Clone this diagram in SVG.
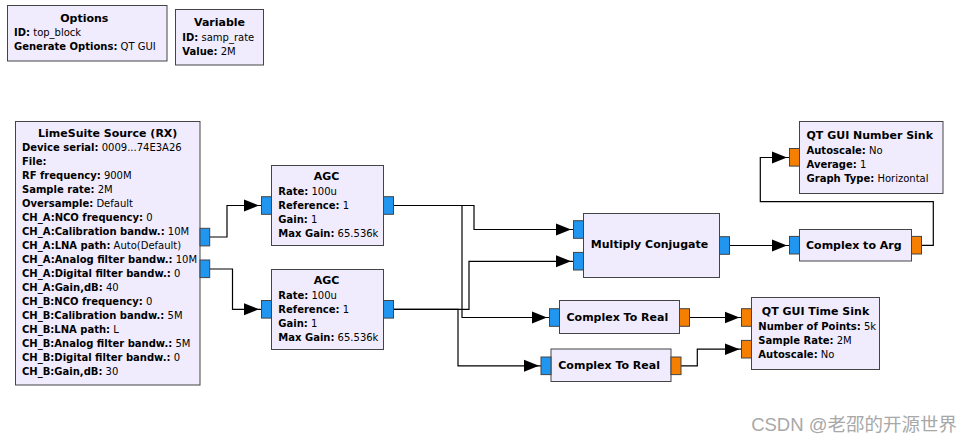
<svg xmlns="http://www.w3.org/2000/svg" width="974" height="444" viewBox="0 0 974 444">
<style>
.blk{fill:#f0ecfd;stroke:#444;stroke-width:1}
.pc{fill:#2196f0;stroke:#444;stroke-width:1}
.pf{fill:#f57f00;stroke:#444;stroke-width:1}
text{font-family:"DejaVu Sans",sans-serif;font-size:10px;fill:#000}
.t{font-weight:bold;font-size:11px;text-anchor:middle}
.tl{font-weight:bold;font-size:11px}
.b{font-weight:bold}
.w{fill:none;stroke:#000;stroke-width:1.2}
.wm{font-family:"Liberation Sans","Noto Sans CJK SC",sans-serif;font-size:18.5px;fill:#a8a8a8;text-anchor:end}
</style>
<defs>
<marker id="arr" markerUnits="userSpaceOnUse" markerWidth="18" markerHeight="14" viewBox="0 0 18 14" refX="17" refY="7" orient="auto">
<path d="M0,1 L15,7 L0,13 z" fill="#000"/>
</marker>
</defs>

<g id="connectors">
<polyline class="w" points="209.5,237 227,237 227,205.5 261,205.5" marker-end="url(#arr)"/>
<polyline class="w" points="209.5,269 232.5,269 232.5,309.3 261,309.3" marker-end="url(#arr)"/>
<polyline class="w" points="393.5,205.5 474,205.5 474,229.5 573,229.5" marker-end="url(#arr)"/>
<polyline class="w" points="393.5,205.5 462,205.5 462,317.5 549,317.5" marker-end="url(#arr)"/>
<polyline class="w" points="393.5,309.3 469,309.3 469,261.3 573,261.3" marker-end="url(#arr)"/>
<polyline class="w" points="393.5,309.3 458,309.3 458,365.8 541,365.8" marker-end="url(#arr)"/>
<polyline class="w" points="729.5,245.5 789,245.5" marker-end="url(#arr)"/>
<polyline class="w" points="921.5,245.3 933.3,245.3 933.3,201.7 760.3,201.7 760.3,157.5 789,157.5" marker-end="url(#arr)"/>
<polyline class="w" points="689.5,317.5 741.5,317.5" marker-end="url(#arr)"/>
<polyline class="w" points="681,365.8 697.3,365.8 697.3,349.2 741.5,349.2" marker-end="url(#arr)"/>
</g>

<g id="options">
<rect class="blk" x="7.5" y="5.5" width="159.5" height="55.5"/>
<text class="t" x="84.3" y="21.5">Options</text>
<text x="14" y="36"><tspan class="b">ID:</tspan> top_block</text>
<text x="14" y="50"><tspan class="b">Generate Options:</tspan> QT GUI</text>
</g>

<g id="variable">
<rect class="blk" x="175.5" y="9.5" width="88" height="55.5"/>
<text class="t" x="219.5" y="26">Variable</text>
<text x="182.3" y="40.5"><tspan class="b">ID:</tspan> samp_rate</text>
<text x="182.3" y="54.5"><tspan class="b">Value:</tspan> 2M</text>
</g>

<g id="limesuite_source">
<rect class="blk" x="15.5" y="121.5" width="184.5" height="263.5"/>
<rect class="pc" x="200" y="228.3" width="9.7" height="17.6"/>
<rect class="pc" x="200" y="260" width="9.7" height="17.6"/>
<text class="t" x="107.7" y="137">LimeSuite Source (RX)</text>
<text x="22" y="151"><tspan class="b">Device serial:</tspan> 0009...74E3A26</text>
<text x="22" y="165"><tspan class="b">File:</tspan></text>
<text x="22" y="179"><tspan class="b">RF frequency:</tspan> 900M</text>
<text x="22" y="193"><tspan class="b">Sample rate:</tspan> 2M</text>
<text x="22" y="207"><tspan class="b">Oversample:</tspan> Default</text>
<text x="22" y="221"><tspan class="b">CH_A:NCO frequency:</tspan> 0</text>
<text x="22" y="235"><tspan class="b">CH_A:Calibration bandw.:</tspan> 10M</text>
<text x="22" y="249"><tspan class="b">CH_A:LNA path:</tspan> Auto(Default)</text>
<text x="22" y="263"><tspan class="b">CH_A:Analog filter bandw.:</tspan> 10M</text>
<text x="22" y="277"><tspan class="b">CH_A:Digital filter bandw.:</tspan> 0</text>
<text x="22" y="291"><tspan class="b">CH_A:Gain,dB:</tspan> 40</text>
<text x="22" y="305"><tspan class="b">CH_B:NCO frequency:</tspan> 0</text>
<text x="22" y="319"><tspan class="b">CH_B:Calibration bandw.:</tspan> 5M</text>
<text x="22" y="333"><tspan class="b">CH_B:LNA path:</tspan> L</text>
<text x="22" y="347"><tspan class="b">CH_B:Analog filter bandw.:</tspan> 5M</text>
<text x="22" y="361"><tspan class="b">CH_B:Digital filter bandw.:</tspan> 0</text>
<text x="22" y="375"><tspan class="b">CH_B:Gain,dB:</tspan> 30</text>
</g>

<g id="agc_1">
<rect class="blk" x="271.5" y="165.5" width="112" height="80"/>
<rect class="pc" x="261.5" y="196.7" width="10" height="17.6"/>
<rect class="pc" x="383.5" y="196.7" width="10" height="17.6"/>
<text class="t" x="326.5" y="180">AGC</text>
<text x="278.3" y="194.5"><tspan class="b">Rate:</tspan> 100u</text>
<text x="278.3" y="208.5"><tspan class="b">Reference:</tspan> 1</text>
<text x="278.3" y="222.5"><tspan class="b">Gain:</tspan> 1</text>
<text x="278.3" y="236.5"><tspan class="b">Max Gain:</tspan> 65.536k</text>
</g>

<g id="agc_2">
<rect class="blk" x="271.5" y="269.5" width="112" height="80"/>
<rect class="pc" x="261.5" y="300.5" width="10" height="17.6"/>
<rect class="pc" x="383.5" y="300.5" width="10" height="17.6"/>
<text class="t" x="326.5" y="284">AGC</text>
<text x="278.3" y="298.5"><tspan class="b">Rate:</tspan> 100u</text>
<text x="278.3" y="312.5"><tspan class="b">Reference:</tspan> 1</text>
<text x="278.3" y="326.5"><tspan class="b">Gain:</tspan> 1</text>
<text x="278.3" y="340.5"><tspan class="b">Max Gain:</tspan> 65.536k</text>
</g>

<g id="multiply_conjugate">
<rect class="blk" x="583.5" y="213.5" width="136" height="64"/>
<rect class="pc" x="573.5" y="220.7" width="10" height="17.6"/>
<rect class="pc" x="573.5" y="252.4" width="10" height="17.6"/>
<rect class="pc" x="719.5" y="236.7" width="10" height="17.6"/>
<text class="t" x="649.5" y="248">Multiply Conjugate</text>
</g>

<g id="qt_gui_number_sink">
<rect class="blk" x="799.5" y="121.5" width="143.5" height="72"/>
<rect class="pf" x="789.5" y="148.5" width="10" height="17.6"/>
<text class="tl" x="806.5" y="139">QT GUI Number Sink</text>
<text x="806.5" y="153.5"><tspan class="b">Autoscale:</tspan> No</text>
<text x="806.5" y="167.5"><tspan class="b">Average:</tspan> 1</text>
<text x="806.5" y="181.5"><tspan class="b">Graph Type:</tspan> Horizontal</text>
</g>

<g id="complex_to_arg">
<rect class="blk" x="799.5" y="229.5" width="112" height="31.5"/>
<rect class="pc" x="789.5" y="236.4" width="10" height="17.6"/>
<rect class="pf" x="911.5" y="236.4" width="10" height="17.6"/>
<text class="tl" x="806" y="248.5">Complex to Arg</text>
</g>

<g id="complex_to_real_1">
<rect class="blk" x="559.5" y="300.5" width="120" height="33"/>
<rect class="pc" x="549.5" y="308.7" width="10" height="17.6"/>
<rect class="pf" x="679.5" y="308.7" width="10" height="17.6"/>
<text class="tl" x="566.5" y="321">Complex To Real</text>
</g>

<g id="complex_to_real_2">
<rect class="blk" x="551" y="349" width="120" height="32.5"/>
<rect class="pc" x="541" y="357" width="10" height="17.6"/>
<rect class="pf" x="671" y="357" width="10" height="17.6"/>
<text class="tl" x="558.3" y="369.3">Complex To Real</text>
</g>

<g id="qt_gui_time_sink">
<rect class="blk" x="751.5" y="297.5" width="128" height="72"/>
<rect class="pf" x="741.5" y="308.7" width="10" height="17.6"/>
<rect class="pf" x="741.5" y="340.4" width="10" height="17.6"/>
<text class="t" x="815.5" y="315">QT GUI Time Sink</text>
<text x="758.3" y="330"><tspan class="b">Number of Points:</tspan> 5k</text>
<text x="758.3" y="344"><tspan class="b">Sample Rate:</tspan> 2M</text>
<text x="758.3" y="358"><tspan class="b">Autoscale:</tspan> No</text>
</g>

<text class="wm" x="957" y="431">CSDN @老邵的开源世界</text>
</svg>
